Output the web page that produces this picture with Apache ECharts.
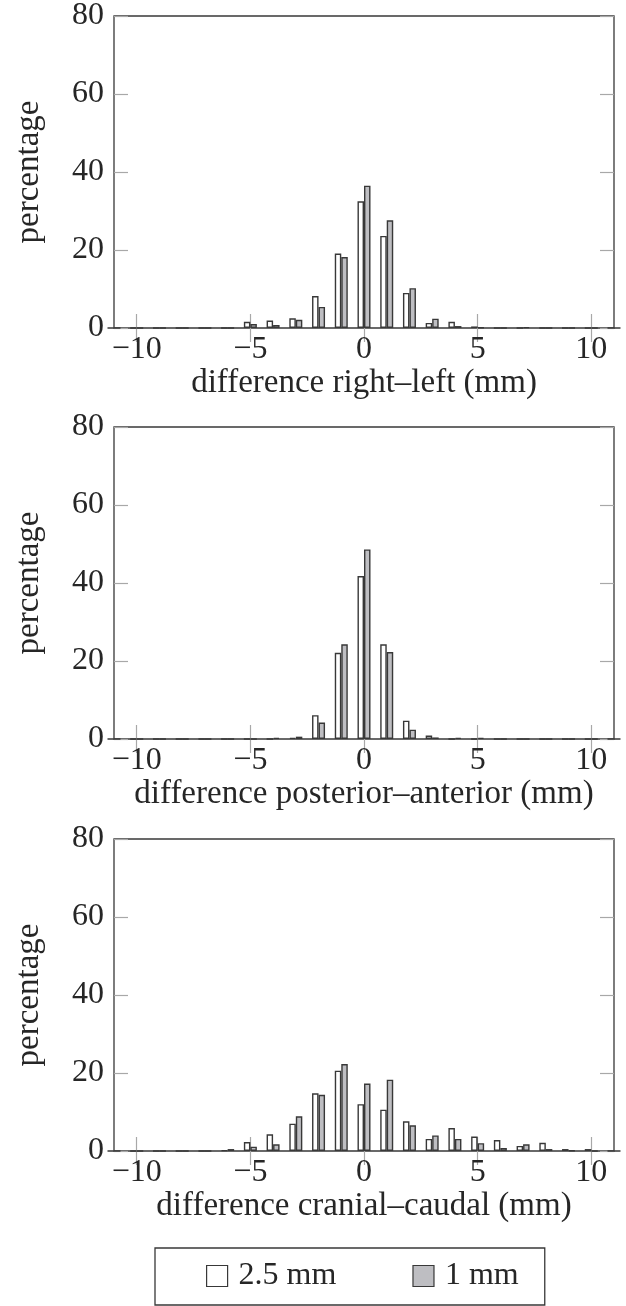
<!DOCTYPE html>
<html><head><meta charset="utf-8">
<script src="https://cdn.jsdelivr.net/npm/echarts@6/dist/echarts.min.js"></script>
<style>html,body{margin:0;padding:0;background:#fff}#c{width:626px;height:1306px}</style>
</head><body><div id="c"></div>
<script>
// bins (mm)
const bins = [-11,-10,-9,-8,-7,-6,-5,-4,-3,-2,-1,0,1,2,3,4,5,6,7,8,9,10,11];
const seriesNames = ['2.5 mm', '1 mm'];
const axisTitles = ['difference right\u2013left (mm)', 'difference posterior\u2013anterior (mm)', 'difference cranial\u2013caudal (mm)'];
const yTicks = [0, 20, 40, 60, 80];
const xTickValues = [-10, -5, 0, 5, 10];
// percentages per bin, panel 1 (right-left)
const rl_25 = [0,0,0,0,0,0,1.6,1.9,2.5,8.2,19.1,32.5,23.6,9.0,1.3,1.6,0.4,0,0,0,0,0,0];
const rl_1  = [0,0,0,0,0,0,1.0,0.8,2.1,5.4,18.2,36.5,27.6,10.2,2.4,0.5,0.1,0,0.2,0,0,0,0];
// panel 2 (posterior-anterior)
const pa_25 = [0,0,0,0,0,0,0,0,0.3,6.1,22.1,41.8,24.3,4.7,0.9,0,0,0,0,0,0,0,0];
const pa_1  = [0,0,0,0,0,0,0,0.3,0.6,4.2,24.3,48.6,22.3,2.4,0.4,0.3,0.3,0,0,0,0,0,0];
// panel 3 (cranial-caudal)
const cc_25 = [0,0,0,0,0,0.2,2.3,4.3,7.0,14.8,20.6,12.0,10.6,7.6,3.1,5.9,3.7,2.8,1.3,2.1,0.5,0.5,0];
const cc_1  = [0,0,0,0,0,0.5,1.1,1.7,8.9,14.4,22.3,17.3,18.3,6.6,4.0,3.1,2.0,0.8,1.7,0.5,0.1,0,0];

const panels = [[rl_25, rl_1], [pa_25, pa_1], [cc_25, cc_1]];
const gridTops = [16, 427, 839];
const gridH = 312;

const FONT = 'Liberation Serif';
const TXT = '#262626';
const FRAME = '#383838';
const TICK = '#a8a8a8';
const fills = ['#ffffff', '#bebec2'];

const isTick = (i, v) => xTickValues.indexOf(Number(v)) >= 0;
const fmtX = v => String(v).replace('-', '\u2212');

const grid = [], xAxis = [], yAxis = [], series = [];
panels.forEach((p, k) => {
  grid.push({left: 114, right: 12, top: gridTops[k], height: gridH, show: true,
    borderColor: FRAME, borderWidth: 1.3, backgroundColor: 'transparent'});
  const tickCommon = {show: true, inside: true, length: 14, interval: isTick, lineStyle: {color: TICK, width: 1.2}};
  xAxis.push({type: 'category', gridIndex: k, data: bins.map(String), boundaryGap: false,
    position: 'bottom',
    name: axisTitles[k], nameLocation: 'middle', nameGap: 29,
    nameTextStyle: {fontFamily: FONT, fontSize: 33, color: TXT},
    axisLine: {show: false}, axisTick: tickCommon,
    axisLabel: {interval: isTick, formatter: fmtX, fontFamily: FONT, fontSize: 32, color: TXT, margin: 6},
    splitLine: {show: false}});
  xAxis.push({type: 'category', gridIndex: k, data: bins.map(String), boundaryGap: false,
    position: 'top', axisLine: {show: false}, axisTick: tickCommon,
    axisLabel: {show: false}, splitLine: {show: false}});
  const yTickCommon = {show: true, inside: true, length: 14, lineStyle: {color: TICK, width: 1.2}};
  yAxis.push({type: 'value', gridIndex: k, min: yTicks[0], max: yTicks[yTicks.length-1], interval: 20,
    position: 'left',
    name: 'percentage', nameLocation: 'middle', nameGap: 68, nameRotate: 90,
    nameTextStyle: {fontFamily: FONT, fontSize: 33, color: TXT},
    axisLine: {show: false}, axisTick: yTickCommon,
    axisLabel: {fontFamily: FONT, fontSize: 32, color: TXT, margin: 10},
    splitLine: {show: false}});
  yAxis.push({type: 'value', gridIndex: k, min: yTicks[0], max: yTicks[yTicks.length-1], interval: 20,
    position: 'right', axisLine: {show: false}, axisTick: yTickCommon,
    axisLabel: {show: false}, splitLine: {show: false}});
  p.forEach((vals, j) => {
    series.push({type: 'bar', name: seriesNames[j], xAxisIndex: 2*k, yAxisIndex: 2*k,
      data: vals, barWidth: 6.5, barGap: '0%', silent: true,
      itemStyle: {color: fills[j], borderColor: FRAME, borderWidth: 1.4}});
  });
});

const chart = echarts.init(document.getElementById('c'), null, {renderer: 'canvas'});
chart.setOption({
  animation: false,
  backgroundColor: '#fff',
  grid, xAxis, yAxis, series,
  legend: {
    data: seriesNames.map((n, j) => ({name: n, icon: 'rect', itemStyle: {color: fills[j], borderColor: FRAME, borderWidth: 1.2}})),
    left: 155, top: 1248, orient: 'horizontal',
    itemWidth: 21, itemHeight: 21, itemGap: 76,
    padding: [12, 26, 13, 51],
    borderColor: FRAME, borderWidth: 1.3,
    textStyle: {fontFamily: FONT, fontSize: 32, color: TXT, padding: [0, 0, 0, 6]},
    selectedMode: false
  }
});
</script></body></html>
